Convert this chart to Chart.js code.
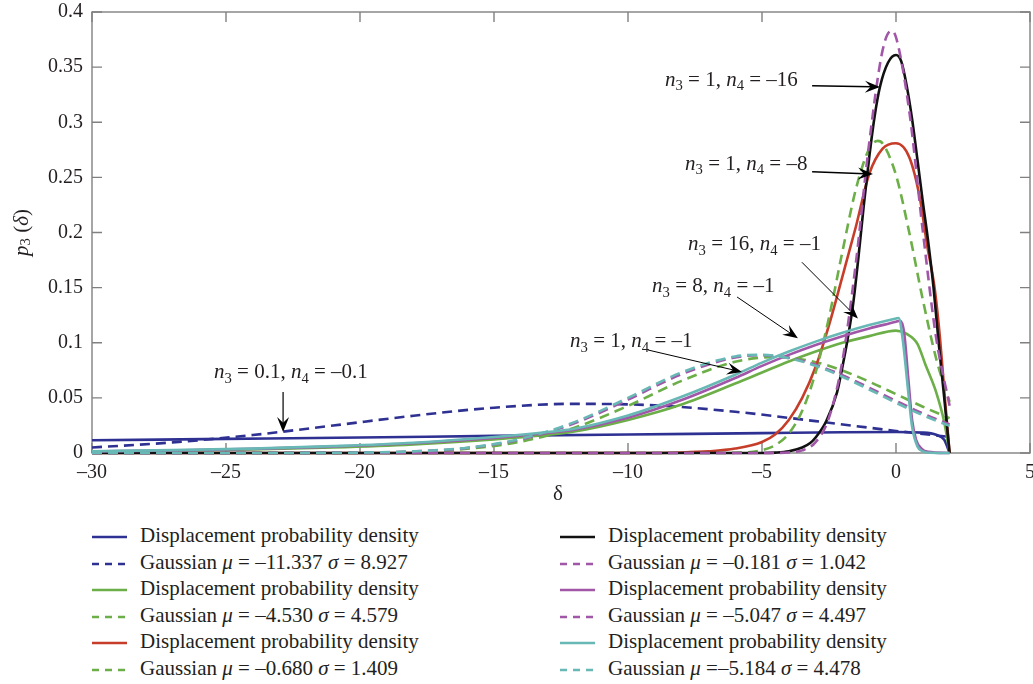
<!DOCTYPE html>
<html>
<head>
<meta charset="utf-8">
<script src="https://cdn.jsdelivr.net/npm/chart.js@4.4.1/dist/chart.umd.min.js"></script>
<style>
  body { margin: 0; background: #fff; }
  #wrap { position: relative; width: 1033px; height: 512px; }
  #legend {
    position: relative; width: 1033px; height: 172px;
    font-family: "Liberation Serif", "DejaVu Serif", serif; font-size: 21px; color: #231f20;
  }
  .col { position: absolute; top: 10px; }
  .row { height: 26.5px; line-height: 26.5px; white-space: nowrap; }
  .row svg { vertical-align: middle; margin-right: 13px; }
</style>
</head>
<body>
<div id="wrap"><canvas id="chart" width="1033" height="512"></canvas></div>
<div id="legend"></div>
<script>
// p3(delta) curves, one x/y pair per line
const deltaBlue = [-30, -25, -20, -15, -10, -5, -2, 0, 1, 1.5, 1.8, 2];
const densBlue = [0.0115, 0.0128, 0.0141, 0.0155, 0.0168, 0.018, 0.0188, 0.019, 0.0185, 0.0165, 0.012, 0];

const deltaGaussBlue = [-30, -27, -24, -21, -18, -15, -12, -9, -6, -3, 0, 2];
const gaussBlue = [0.0050, 0.0096, 0.0163, 0.0249, 0.0338, 0.0411, 0.0446, 0.0432, 0.0374, 0.0289, 0.0200, 0.0146];

const deltaGreen = [-30, -27, -24, -21, -18, -15, -13, -12, -10, -8, -6, -5, -4, -3, -2, -1, 0, 0.4, 0.8, 1.1, 1.5, 1.8, 2];
const densGreen = [0.0013, 0.002, 0.0032, 0.005, 0.0078, 0.0122, 0.0165, 0.0195, 0.030, 0.044, 0.063, 0.073, 0.083, 0.092, 0.100, 0.106, 0.111, 0.108, 0.099, 0.080, 0.055, 0.028, 0];

const deltaGaussGreen = [-30, -24, -22, -20, -18, -16, -14, -12, -10, -8, -6, -4.5, -3, -2, -1, 0, 1, 2];
const gaussGreen = [0, 0.00001, 0.00006, 0.0003, 0.00115, 0.0038, 0.0103, 0.0230, 0.0427, 0.0654, 0.0828, 0.0871, 0.0824, 0.0748, 0.0647, 0.0534, 0.0420, 0.0315];

const deltaRed = [-30, -10, -8, -7, -6, -5, -4.5, -4, -3.5, -3, -2.5, -2, -1.5, -1, -0.5, 0, 0.5, 0.9, 1.15, 1.45, 1.65, 1.83, 2];
const densRed = [0, 0, 0.0005, 0.0015, 0.004, 0.01, 0.017, 0.03, 0.05, 0.078, 0.116, 0.16, 0.205, 0.253, 0.276, 0.281, 0.268, 0.23, 0.19, 0.148, 0.102, 0.048, 0];

const deltaGaussRed = [-30, -7, -6, -5, -4.5, -4, -3.5, -3, -2.5, -2, -1.5, -1, -0.68, -0.5, 0, 0.5, 1, 1.5, 2];
const gaussRed = [0, 0, 0.0002, 0.0026, 0.0072, 0.0176, 0.0383, 0.0730, 0.1229, 0.1826, 0.2390, 0.2759, 0.2831, 0.2808, 0.2520, 0.1994, 0.1391, 0.0855, 0.0464];

const deltaBlack = [-30, -5, -4.5, -4, -3.5, -3.2, -3, -2.6, -2.2, -2, -1.8, -1.6, -1.4, -1.2, -1, -0.8, -0.6, -0.3, 0, 0.2, 0.4, 0.6, 0.8, 1, 1.2, 1.4, 1.6, 1.8, 1.9, 2];
const densBlack = [0, 0, 0.0003, 0.0015, 0.005, 0.009, 0.014, 0.029, 0.055, 0.078, 0.104, 0.135, 0.178, 0.225, 0.268, 0.305, 0.332, 0.354, 0.361, 0.355, 0.333, 0.303, 0.266, 0.228, 0.192, 0.15, 0.098, 0.05, 0.025, 0];

const deltaGaussBlack = [-30, -5, -4.5, -4, -3.5, -3, -2.5, -2, -1.5, -1, -0.5, -0.18, 0, 0.5, 1, 1.5, 2];
const gaussBlack = [0, 0, 0.0001, 0.0005, 0.0024, 0.0098, 0.0321, 0.0834, 0.1718, 0.2811, 0.3653, 0.3829, 0.3771, 0.3092, 0.2014, 0.1042, 0.0428];

const deltaPurple = [-30, -27, -24, -21, -18, -15, -13, -12, -10, -8, -6, -5, -4, -3, -2, -1, 0, 0.15, 0.3, 0.45, 0.6, 0.75, 0.95, 1.2, 2];
const densPurple = [0.0014, 0.0023, 0.0037, 0.0058, 0.0088, 0.0137, 0.0182, 0.0212, 0.032, 0.048, 0.068, 0.079, 0.089, 0.098, 0.106, 0.113, 0.119, 0.12, 0.11, 0.07, 0.03, 0.012, 0.004, 0.001, 0];

const deltaGaussPurple = [-30, -24, -22, -20, -18, -16, -14, -12, -10, -8, -6, -5, -4, -3, -2, -1, 0, 1, 2];
const gaussPurple = [0, 0.00001, 0.00007, 0.00035, 0.0014, 0.0046, 0.0122, 0.0269, 0.0484, 0.0715, 0.0867, 0.0887, 0.0863, 0.0800, 0.0705, 0.0592, 0.0473, 0.0359, 0.0260];

const deltaTeal = [-30, -27, -24, -21, -18, -15, -13, -12, -10, -8, -6, -5, -4, -3, -2, -1, 0, 0.1, 0.25, 0.45, 0.6, 0.8, 1.0, 1.3, 2];
const densTeal = [0.0016, 0.0026, 0.004, 0.0062, 0.0093, 0.0145, 0.019, 0.022, 0.034, 0.051, 0.071, 0.082, 0.092, 0.101, 0.109, 0.116, 0.122, 0.1225, 0.103, 0.057, 0.024, 0.006, 0.0015, 0.0002, 0];

const deltaGaussTeal = [-30, -24, -22, -20, -18, -16, -14, -12, -10, -8, -6, -5, -4, -3, -2, -1, 0, 1, 2];
const gaussTeal = [0, 0.00001, 0.00008, 0.00037, 0.0015, 0.0048, 0.0128, 0.0280, 0.0500, 0.0731, 0.0876, 0.0890, 0.0860, 0.0791, 0.0692, 0.0576, 0.0456, 0.0343, 0.0246];

const xTicks = [-30, -25, -20, -15, -10, -5, 0, 5];
const yTicks = [0, 0.05, 0.1, 0.15, 0.2, 0.25, 0.3, 0.35, 0.4];

const legendLabels = [
  'Displacement probability density', 'Gaussian μ = –11.337 σ = 8.927',
  'Displacement probability density', 'Gaussian μ = –4.530 σ = 4.579',
  'Displacement probability density', 'Gaussian μ = –0.680 σ = 1.409',
  'Displacement probability density', 'Gaussian μ = –0.181 σ = 1.042',
  'Displacement probability density', 'Gaussian μ = –5.047 σ = 4.497',
  'Displacement probability density', 'Gaussian μ =–5.184 σ = 4.478'
];

const BLUE = '#2e3192', GREEN = '#6cae47', RED = '#c63d2a', BLACK = '#111111', PURPLE = '#a156a8', TEAL = '#68b8b5';
const DASH = [10, 6];
const FONT = '"Liberation Serif", "DejaVu Serif", serif';

const lines = [
  { x: deltaBlue, y: densBlue, color: BLUE, dash: [] },
  { x: deltaGaussBlue, y: gaussBlue, color: BLUE, dash: DASH },
  { x: deltaGreen, y: densGreen, color: GREEN, dash: [] },
  { x: deltaGaussGreen, y: gaussGreen, color: GREEN, dash: DASH },
  { x: deltaRed, y: densRed, color: RED, dash: [] },
  { x: deltaGaussRed, y: gaussRed, color: GREEN, dash: DASH },
  { x: deltaBlack, y: densBlack, color: BLACK, dash: [] },
  { x: deltaGaussBlack, y: gaussBlack, color: PURPLE, dash: DASH },
  { x: deltaPurple, y: densPurple, color: PURPLE, dash: [] },
  { x: deltaGaussPurple, y: gaussPurple, color: PURPLE, dash: DASH },
  { x: deltaTeal, y: densTeal, color: TEAL, dash: [] },
  { x: deltaGaussTeal, y: gaussTeal, color: TEAL, dash: DASH }
];

// text callouts: [parts], text position and arrow (data units)
const callouts = [
  { parts: [['n', 'i'], ['3', 's'], [' = 1, ', ''], ['n', 'i'], ['4', 's'], [' = –16', '']], at: [-8.62, 0.333], from: [-3.13, 0.333], to: [-0.6, 0.332], w: 1.5 },
  { parts: [['n', 'i'], ['3', 's'], [' = 1, ', ''], ['n', 'i'], ['4', 's'], [' = –8', '']], at: [-7.87, 0.257], from: [-3.13, 0.255], to: [-0.86, 0.253], w: 1.5 },
  { parts: [['n', 'i'], ['3', 's'], [' = 16, ', ''], ['n', 'i'], ['4', 's'], [' = –1', '']], at: [-7.76, 0.184], from: [-3.51, 0.173], to: [-1.42, 0.122], w: 1 },
  { parts: [['n', 'i'], ['3', 's'], [' = 8, ', ''], ['n', 'i'], ['4', 's'], [' = –1', '']], at: [-9.1, 0.146], from: [-5.93, 0.1415], to: [-3.66, 0.104], w: 1 },
  { parts: [['n', 'i'], ['3', 's'], [' = 1, ', ''], ['n', 'i'], ['4', 's'], [' = –1', '']], at: [-12.16, 0.096], from: [-9.25, 0.0934], to: [-5.75, 0.0735], w: 1 },
  { parts: [['n', 'i'], ['3', 's'], [' = 0.1, ', ''], ['n', 'i'], ['4', 's'], [' = –0.1', '']], at: [-25.45, 0.068], from: [-22.87, 0.0553], to: [-22.87, 0.019], w: 1.2 }
];

function drawRich(ctx, parts, x, y, size) {
  let cx = x;
  parts.forEach(([t, st]) => {
    const sub = st === 's';
    const fs = sub ? size * 0.7 : size;
    ctx.font = (st === 'i' ? 'italic ' : '') + fs + 'px ' + FONT;
    ctx.fillText(t, cx, sub ? y + size * 0.22 : y);
    cx += ctx.measureText(t).width;
  });
  return cx - x;
}

function richWidth(ctx, parts, size) {
  let w = 0;
  parts.forEach(([t, st]) => {
    const fs = st === 's' ? size * 0.7 : size;
    ctx.font = (st === 'i' ? 'italic ' : '') + fs + 'px ' + FONT;
    w += ctx.measureText(t).width;
  });
  return w;
}

function arrow(ctx, x1, y1, x2, y2, w) {
  const a = Math.atan2(y2 - y1, x2 - x1);
  const L = 15, W = 6;
  ctx.lineWidth = w;
  ctx.beginPath();
  ctx.moveTo(x1, y1);
  ctx.lineTo(x2 - Math.cos(a) * 8, y2 - Math.sin(a) * 8);
  ctx.stroke();
  ctx.save();
  ctx.translate(x2, y2);
  ctx.rotate(a);
  ctx.beginPath();
  ctx.moveTo(0, 0);
  ctx.lineTo(-L, -W);
  ctx.lineTo(-L * 0.62, 0);
  ctx.lineTo(-L, W);
  ctx.closePath();
  ctx.fill();
  ctx.restore();
}

// box with inward ticks goes under the curves
const axesBox = {
  id: 'axesBox',
  beforeDatasetsDraw(chart) {
    const { ctx, chartArea: ca, scales: { x, y } } = chart;
    ctx.save();
    ctx.strokeStyle = '#808080';
    ctx.lineWidth = 1.4;
    ctx.strokeRect(ca.left, ca.top, ca.right - ca.left, ca.bottom - ca.top);
    ctx.beginPath();
    xTicks.forEach(v => {
      const px = x.getPixelForValue(v);
      ctx.moveTo(px, ca.bottom); ctx.lineTo(px, ca.bottom - 10);
      ctx.moveTo(px, ca.top); ctx.lineTo(px, ca.top + 10);
    });
    yTicks.forEach(v => {
      const py = y.getPixelForValue(v);
      ctx.moveTo(ca.left, py); ctx.lineTo(ca.left + 10, py);
      ctx.moveTo(ca.right, py); ctx.lineTo(ca.right - 10, py);
    });
    ctx.stroke();
    ctx.restore();
  }
};

// axis titles and callouts
const notes = {
  id: 'notes',
  afterDraw(chart) {
    const { ctx, chartArea: ca, scales: { x, y } } = chart;
    ctx.save();
    ctx.strokeStyle = '#000';
    ctx.textBaseline = 'alphabetic';
    ctx.textAlign = 'left';
    callouts.forEach(c => {
      ctx.fillStyle = '#231f20';
      drawRich(ctx, c.parts, x.getPixelForValue(c.at[0]), y.getPixelForValue(c.at[1]), 21);
      ctx.fillStyle = '#000';
      arrow(ctx, x.getPixelForValue(c.from[0]), y.getPixelForValue(c.from[1]),
        x.getPixelForValue(c.to[0]), y.getPixelForValue(c.to[1]), c.w);
    });

    ctx.fillStyle = '#231f20';
    ctx.textAlign = 'center';
    ctx.textBaseline = 'middle';
    ctx.font = '21px ' + FONT;
    ctx.fillText('δ', (ca.left + ca.right) / 2 - 3, 494);

    const yParts = [['p', 'i'], ['3', 's'], [' (', ''], ['δ', 'i'], [')', '']];
    ctx.translate(22, (ca.top + ca.bottom) / 2);
    ctx.rotate(-Math.PI / 2);
    ctx.textAlign = 'left';
    drawRich(ctx, yParts, -richWidth(ctx, yParts, 21) / 2, 0, 21);
    ctx.restore();
  }
};

const datasets = lines.map((l, i) => ({
  label: legendLabels[i],
  data: l.x.map((v, k) => ({ x: v, y: l.y[k] })),
  borderColor: l.color,
  borderDash: l.dash,
  borderWidth: 2.6,
  pointRadius: 0,
  fill: false,
  clip: 3,
  cubicInterpolationMode: 'monotone',
  order: lines.length - i
}));

const tickFont = { family: FONT, size: 20 };

const chart = new Chart(document.getElementById('chart'), {
  type: 'line',
  data: { datasets },
  options: {
    responsive: false,
    animation: false,
    layout: { padding: { left: 0, top: 12, right: 3, bottom: 0 } },
    plugins: { legend: { display: false }, tooltip: { enabled: false } },
    scales: {
      x: {
        type: 'linear', min: -30, max: 5,
        grid: { display: false, drawTicks: false },
        border: { display: false },
        ticks: {
          stepSize: 5, font: tickFont, color: '#231f20', padding: 8, maxRotation: 0,
          callback: v => v < 0 ? '–' + Math.abs(v) : String(v)
        },
        afterFit(s) { s.height = 512 - 453; s.paddingLeft = 0; s.paddingRight = 0; }
      },
      y: {
        min: 0, max: 0.4,
        grid: { display: false, drawTicks: false },
        border: { display: false },
        ticks: {
          stepSize: 0.05, font: tickFont, color: '#231f20', padding: 9,
          callback: v => String(Math.round(v * 100) / 100)
        },
        afterFit(s) { s.width = 92; s.paddingTop = 0; s.paddingBottom = 0; }
      }
    }
  },
  plugins: [axesBox, notes]
});

// two-column legend below the plot
function legendRow(ds) {
  const row = document.createElement('div');
  row.className = 'row';
  const dash = ds.borderDash.length ? 'stroke-dasharray="7 6"' : '';
  row.innerHTML = `<svg width="35" height="10"><line x1="0" y1="5" x2="35" y2="5" stroke="${ds.borderColor}" stroke-width="2.4" ${dash}/></svg>` +
    ds.label.replace('μ', '<i>μ</i>').replace('σ', '<i>σ</i>');
  return row;
}

const legend = document.getElementById('legend');
[[0, 92], [6, 560]].forEach(([start, left]) => {
  const col = document.createElement('div');
  col.className = 'col';
  col.style.left = left + 'px';
  chart.data.datasets.slice(start, start + 6).forEach(ds => col.appendChild(legendRow(ds)));
  legend.appendChild(col);
});
</script>
</body>
</html>
